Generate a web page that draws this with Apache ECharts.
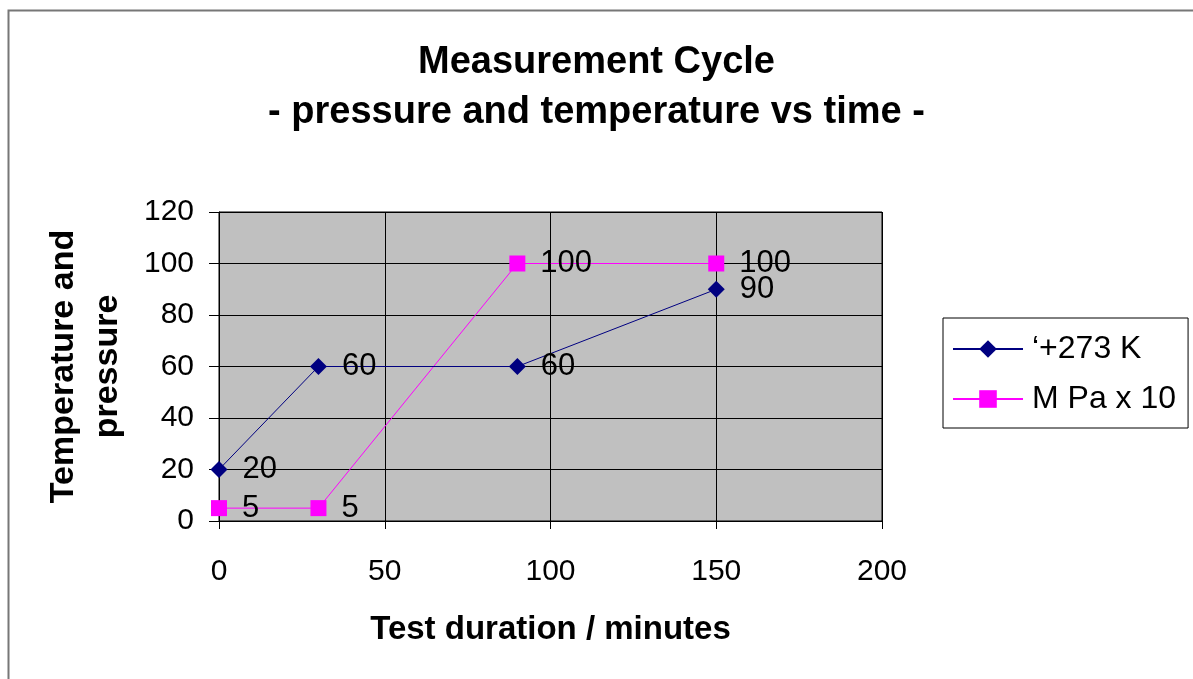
<!DOCTYPE html>
<html>
<head>
<meta charset="utf-8">
<script src="https://cdn.jsdelivr.net/npm/echarts@6/dist/echarts.min.js"></script>
<style>html,body{margin:0;padding:0;background:#fff;}#c{width:1193px;height:679px;}</style>
</head>
<body>
<div id="c"></div>
<script>
const tempName = "‘+273 K";
const pressName = "M Pa x 10";
const tempTimes = [0, 30, 90, 150];
const tempValues = [20, 60, 60, 90];
const pressTimes = [0, 30, 90, 150];
const pressValues = [5, 5, 100, 100];
const xTicks = [0, 50, 100, 150, 200];
const yTicks = [0, 20, 40, 60, 80, 100, 120];

const FONT = 'Liberation Sans, Arial, sans-serif';
const chart = echarts.init(document.getElementById('c'));
const pair = (xs, ys) => xs.map((x, i) => [x, ys[i]]);
const lbl = {show: true, position: 'right', distance: 15, fontSize: 31, color: '#000', fontFamily: FONT};
chart.setOption({
  animation: false,
  backgroundColor: '#fff',
  textStyle: {fontFamily: FONT},
  graphic: [{type: 'rect', shape: {x: 8.5, y: 10.5, width: 1300, height: 800}, style: {fill: 'none', stroke: '#777', lineWidth: 2}, silent: true, z: -10}],
  title: {
    text: 'Measurement Cycle\n- pressure and temperature vs time -',
    left: 'center', top: 33,
    textStyle: {fontSize: 38, fontWeight: 'bold', color: '#000', lineHeight: 50, fontFamily: FONT}
  },
  grid: {left: 219, right: 311, top: 212, bottom: 158, show: true, backgroundColor: '#c0c0c0', borderColor: '#000', borderWidth: 1},
  legend: {
    orient: 'vertical', left: 943, top: 318,
    borderColor: '#000', borderWidth: 1,
    padding: [15, 12, 13, 9],
    itemWidth: 70, itemHeight: 22, itemGap: 18,
    textStyle: {fontSize: 32, color: '#000', fontFamily: FONT, padding: [0, 0, 0, 4]},
    data: [tempName, pressName]
  },
  xAxis: {
    type: 'value', min: xTicks[0], max: xTicks[xTicks.length - 1], interval: 50,
    name: 'Test duration / minutes', nameLocation: 'middle', nameGap: 92,
    nameTextStyle: {fontSize: 33, fontWeight: 'bold', color: '#000', fontFamily: FONT},
    axisLine: {lineStyle: {color: '#000'}},
    axisTick: {show: true, length: 8, lineStyle: {color: '#000'}},
    axisLabel: {fontSize: 30, color: '#000', margin: 36, fontFamily: FONT},
    splitLine: {show: true, lineStyle: {color: '#000', width: 1}}
  },
  yAxis: {
    type: 'value', min: yTicks[0], max: yTicks[yTicks.length - 1], interval: 20,
    name: 'Temperature and\npressure', nameLocation: 'middle', nameGap: 89, nameRotate: 90,
    nameTextStyle: {fontSize: 34, fontWeight: 'bold', color: '#000', lineHeight: 44, fontFamily: FONT},
    axisLine: {show: true, lineStyle: {color: '#000'}},
    axisTick: {show: true, length: 10, lineStyle: {color: '#000'}},
    axisLabel: {fontSize: 30, color: '#000', margin: 25, fontFamily: FONT},
    splitLine: {show: true, lineStyle: {color: '#000', width: 1}}
  },
  series: [
    {name: tempName, type: 'line', data: pair(tempTimes, tempValues),
     symbol: 'diamond', symbolSize: 17, lineStyle: {color: '#000080', width: 1}, itemStyle: {color: '#000080'},
     label: lbl, z: 3},
    {name: pressName, type: 'line', data: pair(pressTimes, pressValues),
     symbol: 'rect', symbolSize: 16, lineStyle: {color: '#ff00ff', width: 1}, itemStyle: {color: '#ff00ff'},
     label: lbl, z: 2}
  ]
});
</script>
</body>
</html>
